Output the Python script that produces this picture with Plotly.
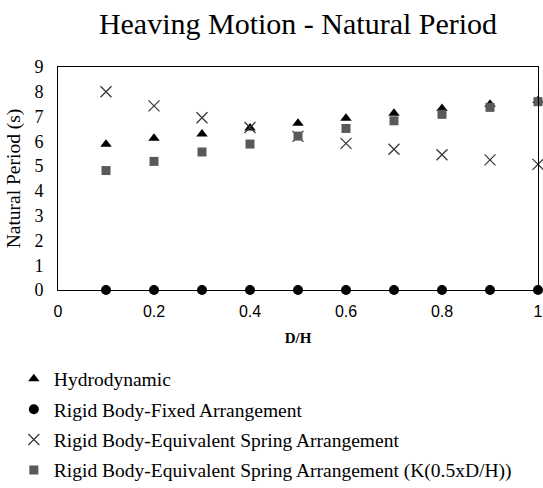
import plotly.graph_objects as go

dh = [0.1, 0.2, 0.3, 0.4, 0.5, 0.6, 0.7, 0.8, 0.9, 1.0]
hydrodynamic = [5.88, 6.12, 6.30, 6.54, 6.73, 6.93, 7.13, 7.33, 7.50, 7.65]
rigid_fixed = [0, 0, 0, 0, 0, 0, 0, 0, 0, 0]
rigid_spring = [8.0, 7.43, 6.95, 6.56, 6.20, 5.92, 5.68, 5.46, 5.25, 5.07]
rigid_spring_k = [4.82, 5.19, 5.57, 5.89, 6.21, 6.52, 6.83, 7.09, 7.37, 7.60]
x_ticks = [0, 0.2, 0.4, 0.6, 0.8, 1]
x_tick_text = ["0", "0.2", "0.4", "0.6", "0.8", "1"]

SERIF = "Liberation Serif, Times New Roman, serif"
SANS = "Liberation Sans, Arial, sans-serif"

fig = go.Figure()
fig.add_trace(go.Scatter(x=dh, y=hydrodynamic, mode="markers", name="Hydrodynamic",
                         legendgroup="a",
                         marker=dict(symbol="triangle-up", size=10, color="black"),
                         cliponaxis=False))
fig.add_trace(go.Scatter(x=dh, y=rigid_fixed, mode="markers", name="Rigid Body-Fixed Arrangement",
                         legendgroup="b",
                         marker=dict(symbol="circle", size=10, color="black"),
                         cliponaxis=False))
fig.add_trace(go.Scatter(x=dh, y=rigid_spring, mode="markers", name="Rigid Body-Equivalent Spring Arrangement",
                         legendgroup="c",
                         marker=dict(symbol="x-thin-open", size=11, color="#333333",
                                     line=dict(width=1.2, color="#333333")),
                         cliponaxis=False))
fig.add_trace(go.Scatter(x=dh, y=rigid_spring_k, mode="markers",
                         name="Rigid Body-Equivalent Spring Arrangement (K(0.5xD/H))",
                         legendgroup="d",
                         marker=dict(symbol="square", size=9, color="#595959"),
                         cliponaxis=False))

fig.update_layout(
    width=543, height=488,
    margin=dict(l=58, r=5, t=67, b=198),
    paper_bgcolor="white", plot_bgcolor="white",
    font=dict(family=SERIF, size=16, color="black"),
    title=dict(text="Heaving Motion - Natural Period", x=0.5, xanchor="center", xref="paper",
               y=0.951, yanchor="middle", font=dict(family=SERIF, size=30, color="black")),
    legend=dict(orientation="v", x=-0.092, xanchor="left", xref="paper",
                y=0.263, yanchor="top", yref="container",
                font=dict(family=SERIF, size=19.5, color="black"),
                tracegroupgap=2, itemwidth=30, bgcolor="rgba(0,0,0,0)"),
    showlegend=True,
)
fig.update_xaxes(range=[0, 1], tickvals=x_ticks, ticktext=x_tick_text, automargin=False,
                 showline=True, linecolor="black", linewidth=1, mirror=True,
                 showgrid=False, zeroline=False, ticks="", ticklabelstandoff=7,
                 tickfont=dict(family=SANS, size=16),
                 title=dict(text="<b>D/H</b>", font=dict(family=SERIF, size=15), standoff=13))
fig.update_yaxes(range=[0, 9], dtick=1, automargin=False,
                 showline=True, linecolor="black", linewidth=1, mirror=True,
                 showgrid=False, zeroline=False, ticks="", ticklabelstandoff=10,
                 tickfont=dict(family=SERIF, size=18),
                 title=dict(text="Natural Period (s)", font=dict(family=SERIF, size=19.5), standoff=8))

fig.write_html("out.html", config={"displayModeBar": False},
               post_script="document.body.style.margin='0';document.body.style.overflow='hidden';")
